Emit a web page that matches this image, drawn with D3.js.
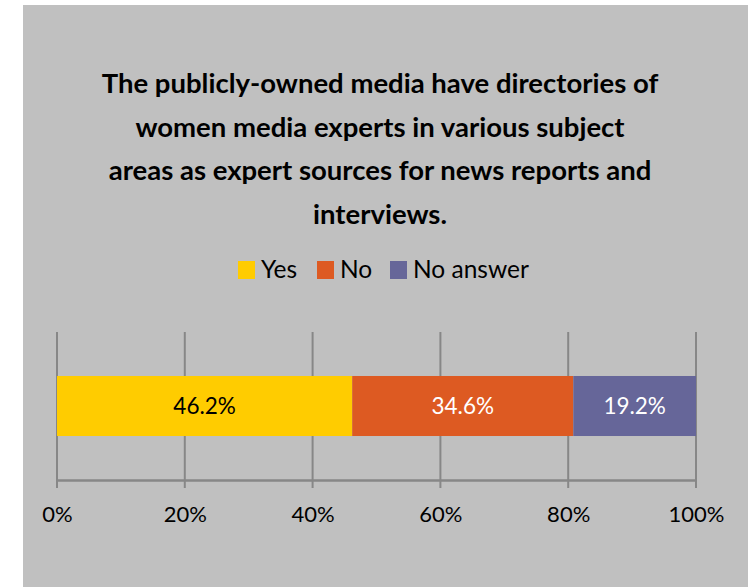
<!DOCTYPE html>
<html>
<head>
<meta charset="utf-8">
<script src="https://cdn.jsdelivr.net/npm/d3@7"></script>
<style>
  html, body { margin: 0; padding: 0; background: #ffffff; }
  svg { display: block; }
</style>
</head>
<body>
<svg id="chart" width="748" height="587"></svg>
<script>
// Survey answers for a single stacked 100% bar
const categories = ["Yes", "No", "No answer"];
const values = [46.2, 34.6, 19.2];
const colors = ["#FFCC00", "#DD5A22", "#666699"];
const labelColors = ["#000000", "#ffffff", "#ffffff"];
const tickValues = [0, 20, 40, 60, 80, 100];
const titleLines = [
  "The publicly-owned media have directories of",
  "women media experts in various subject",
  "areas as expert sources for news reports and",
  "interviews."
];

const svg = d3.select("#chart");
const font = "Lato, 'Open Sans', sans-serif";

// chart panel
svg.append("rect")
  .attr("x", 23).attr("y", 5)
  .attr("width", 725).attr("height", 582)
  .attr("fill", "#c0c0c0");

// title
svg.append("g").selectAll("text")
  .data(titleLines)
  .join("text")
  .attr("x", 380)
  .attr("y", (d, i) => 93 + i * 43.5)
  .attr("text-anchor", "middle")
  .attr("font-family", font)
  .attr("font-weight", "bold")
  .attr("font-size", 27.5)
  .attr("fill", "#000")
  .text(d => d);

// legend
const legendX = [238, 317, 390];
const legend = svg.append("g");
categories.forEach((c, i) => {
  legend.append("rect")
    .attr("x", legendX[i]).attr("y", 261)
    .attr("width", 17).attr("height", 18)
    .attr("fill", colors[i]);
  legend.append("text")
    .attr("x", legendX[i] + 23).attr("y", 278)
    .attr("font-family", font)
    .attr("font-size", 24.5)
    .attr("fill", "#000")
    .text(c);
});

// scales
const x = d3.scaleLinear().domain([0, 100]).range([57, 696]);
const y = d3.scaleBand().domain(["row"]).range([332, 480]).paddingInner(0).paddingOuter(0.733);

// vertical gridlines with ticks below the axis
const grid = svg.append("g");
grid.selectAll("line")
  .data(tickValues)
  .join("line")
  .attr("x1", d => x(d)).attr("x2", d => x(d))
  .attr("y1", 332).attr("y2", 488)
  .attr("stroke", "#878787")
  .attr("stroke-width", 2);

// bottom axis
const axis = d3.axisBottom(x)
  .tickValues(tickValues)
  .tickFormat(d => d + "%")
  .tickSize(0)
  .tickPadding(0);
const axisG = svg.append("g")
  .attr("transform", "translate(0,480)")
  .call(axis);
axisG.select(".domain")
  .attr("stroke", "#878787")
  .attr("stroke-width", 2.5);
axisG.selectAll("text")
  .attr("font-family", font)
  .attr("font-size", 22)
  .attr("fill", "#000")
  .attr("dy", null)
  .attr("y", 42);

// stacked segments
let acc = 0;
const segs = values.map((v, i) => {
  const s = { key: categories[i], v, x0: acc, x1: acc + v, i };
  acc += v;
  return s;
});

const bars = svg.append("g");
bars.selectAll("rect")
  .data(segs)
  .join("rect")
  .attr("x", d => x(d.x0))
  .attr("width", d => x(d.x1) - x(d.x0))
  .attr("y", y("row"))
  .attr("height", y.bandwidth())
  .attr("fill", d => colors[d.i]);

bars.selectAll("text")
  .data(segs)
  .join("text")
  .attr("x", d => (x(d.x0) + x(d.x1)) / 2)
  .attr("y", y("row") + y.bandwidth() / 2)
  .attr("dy", "0.36em")
  .attr("text-anchor", "middle")
  .attr("font-family", font)
  .attr("font-size", 22.5)
  .attr("fill", d => labelColors[d.i])
  .text(d => d.v.toFixed(1) + "%");
</script>
</body>
</html>
